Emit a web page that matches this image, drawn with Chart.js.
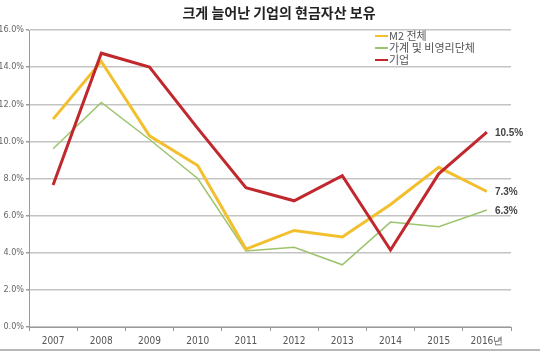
<!DOCTYPE html>
<html>
<head>
<meta charset="utf-8">
<script src="https://cdn.jsdelivr.net/npm/chart.js@4"></script>
<style>
  html, body { margin: 0; padding: 0; background: #fff; }
  #wrap { position: relative; width: 540px; height: 352px; }
  #frame { position: absolute; left: 0; top: 349px; width: 540px; height: 0; border-top: 2px solid #b8b8b8; }
</style>
</head>
<body>
<div id="wrap">
  <canvas id="cashChart" width="540" height="352"></canvas>
  <div id="frame"></div>
</div>
<script>
// data (%)
const years = ['2007', '2008', '2009', '2010', '2011', '2012', '2013', '2014', '2015', '2016년'];
const m2Total = [11.2, 14.3, 10.3, 8.7, 4.2, 5.2, 4.85, 6.6, 8.6, 7.3];
const household = [9.6, 12.1, 10.1, 8.0, 4.1, 4.3, 3.35, 5.65, 5.4, 6.3];
const business = [7.65, 14.75, 14.0, 10.7, 7.5, 6.8, 8.15, 4.15, 8.25, 10.5];
const yTicks = [0, 2, 4, 6, 8, 10, 12, 14, 16];

const seriesNames = ['M2 전체', '가계 및 비영리단체', '기업'];
const seriesColors = ['#f2c02e', '#9cc46c', '#c0282e'];

const fontKr = '"Noto Sans CJK KR", "Noto Sans", sans-serif';

// title, legend and end labels drawn on the canvas
const extrasPlugin = {
    id: 'extras',
    afterDraw(chart) {
        const ctx = chart.ctx;
        ctx.save();

        // title
        ctx.fillStyle = '#222';
        ctx.font = 'bold 14px ' + fontKr;
        ctx.textAlign = 'center';
        ctx.textBaseline = 'middle';
        ctx.fillText('크게 늘어난 기업의 현금자산 보유', 279, 13);

        // legend (inside plot, top right)
        ctx.textAlign = 'left';
        ctx.font = '11px ' + fontKr;
        seriesNames.forEach((name, i) => {
            const y = 36 + i * 12;
            ctx.fillStyle = seriesColors[i];
            ctx.fillRect(375, y - 1, 13, 2);
            ctx.fillStyle = '#555';
            ctx.fillText(name, 389, y);
        });

        // last value labels
        ctx.font = 'bold 10px "Liberation Sans", Arial, sans-serif';
        ctx.fillStyle = '#444';
        const labelSets = [[0, m2Total], [1, household], [2, business]];
        labelSets.forEach(([idx, arr]) => {
            const meta = chart.getDatasetMeta(idx);
            const pt = meta.data[meta.data.length - 1];
            ctx.fillText(arr[arr.length - 1].toFixed(1) + '%', pt.x + 8, pt.y + 1);
        });

        ctx.restore();
    }
};

const ctx = document.getElementById('cashChart').getContext('2d');

new Chart(ctx, {
    type: 'line',
    data: {
        labels: years,
        datasets: [
            {
                label: seriesNames[0],
                data: m2Total,
                borderColor: seriesColors[0],
                backgroundColor: seriesColors[0],
                borderWidth: 3,
                pointRadius: 0,
                tension: 0,
                order: 1
            },
            {
                label: seriesNames[1],
                data: household,
                borderColor: seriesColors[1],
                backgroundColor: seriesColors[1],
                borderWidth: 1.5,
                pointRadius: 0,
                tension: 0,
                order: 2
            },
            {
                label: seriesNames[2],
                data: business,
                borderColor: seriesColors[2],
                backgroundColor: seriesColors[2],
                borderWidth: 3,
                pointRadius: 0,
                tension: 0,
                order: 0
            }
        ]
    },
    options: {
        responsive: false,
        animation: false,
        layout: {
            padding: { top: 30, right: 29, left: 0, bottom: 0 }
        },
        plugins: {
            legend: { display: false },
            title: { display: false },
            tooltip: { enabled: false }
        },
        scales: {
            x: {
                offset: true,
                afterFit: (s) => { s.height = 25; },
                grid: {
                    offset: true,
                    drawOnChartArea: false,
                    drawTicks: true,
                    tickLength: 4,
                    color: '#9a9a9a'
                },
                border: { color: '#9a9a9a', width: 1 },
                ticks: {
                    color: '#555',
                    padding: 4,
                    maxRotation: 0,
                    autoSkip: false,
                    font: { family: '"Liberation Sans Narrow", "DejaVu Sans Condensed", sans-serif', size: 10 }
                }
            },
            y: {
                min: 0,
                max: 16,
                afterFit: (s) => { s.width = 29; },
                afterBuildTicks: (s) => { s.ticks = yTicks.map(v => ({ value: v })); },
                grid: {
                    color: '#c4c4c4',
                    lineWidth: 1.5,
                    tickLength: 3,
                    tickColor: '#9a9a9a'
                },
                border: { color: '#9a9a9a', width: 1 },
                ticks: {
                    color: '#666',
                    padding: 2,
                    callback: (v) => v.toFixed(1) + '%',
                    font: { family: '"Liberation Sans Narrow", "DejaVu Sans Condensed", sans-serif', size: 9 }
                }
            }
        }
    },
    plugins: [extrasPlugin]
});
</script>
</body>
</html>
